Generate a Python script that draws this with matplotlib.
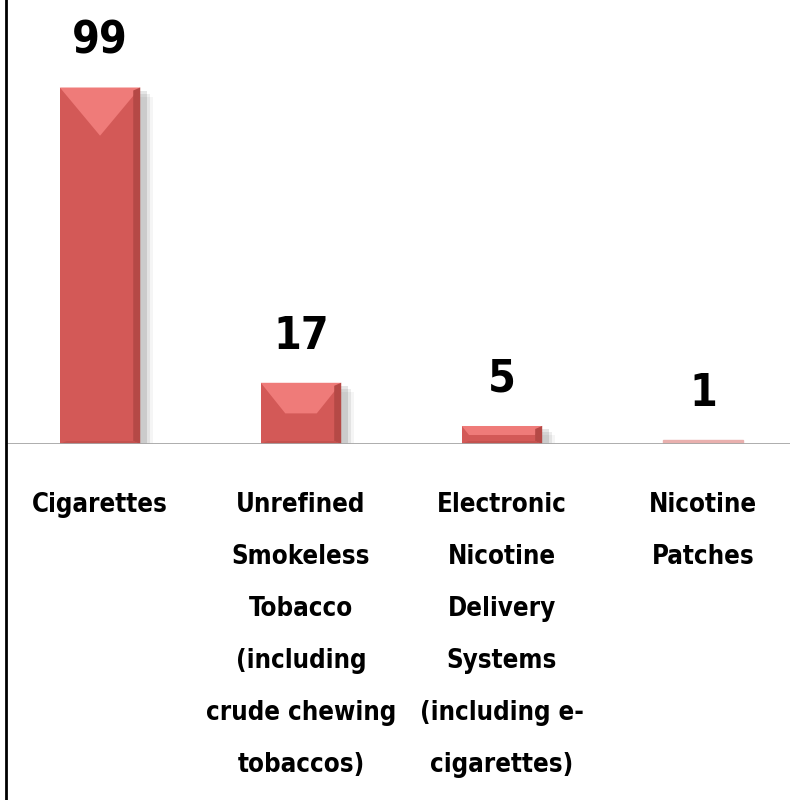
import numpy as np
import matplotlib.pyplot as plt
from matplotlib.patches import Polygon, Rectangle
from matplotlib.lines import Line2D

# data
categories = ["Cigarettes",
              "Unrefined\nSmokeless\nTobacco\n(including\ncrude chewing\ntobaccos)",
              "Electronic\nNicotine\nDelivery\nSystems\n(including e-\ncigarettes)",
              "Nicotine\nPatches"]
values = [99, 17, 5, 1]

plt.rcParams['font.family'] = ['DejaVu Sans']
plt.rcParams['font.stretch'] = 'condensed'

W, H = 790, 800
fig = plt.figure(figsize=(W / 100, H / 100), dpi=100)
# plot area: from left border to right edge, top to baseline
ax = fig.add_axes([6 / W, (H - 444) / H, 784 / W, 444 / H])
x = np.arange(len(values))
ax.set_xlim(-0.468, 3.433)
ax.set_ylim(0, 123.3)
ax.axis('off')

bw = 0.4
px_x = 784 / (3.433 + 0.468)   # pixels per x unit
px_y = 444 / 123.3             # pixels per y unit

face = '#d35957'
top_c = '#ef7b79'
right_c = '#b54946'
bot_c = '#c4524f'

for xi, v in zip(x, values):
    x0, x1 = xi - bw / 2, xi + bw / 2
    hpx = v * px_y
    if hpx < 6:
        ax.add_patch(Rectangle((x0, 0), bw, v, color='#e9b0ae', zorder=2))
        continue
    dx = min(40, hpx * 0.4) / px_x
    dy = min(48, hpx * 0.5) / px_y
    sx, sy = 7 / px_x, 3 / px_y
    # shadow
    for k, a in enumerate([0.10, 0.07, 0.04]):
        s = (k + 1) * 3
        ax.add_patch(Rectangle((x0 + 4 / px_x, -s / px_y), bw + s / px_x, v,
                               color='black', alpha=a, lw=0, zorder=1))
    ax.add_patch(Rectangle((x0, 0), bw, v, color=face, lw=0, zorder=2))
    ax.add_patch(Polygon([(x0, v), (x1, v), (x1 - dx, v - dy), (x0 + dx, v - dy)],
                         closed=True, color=top_c, lw=0, zorder=3))
    ax.add_patch(Polygon([(x1, v), (x1, 0), (x1 - sx, sy), (x1 - sx, v - sy)],
                         closed=True, color=right_c, lw=0, zorder=3))
    ax.add_patch(Polygon([(x0, 0), (x1, 0), (x1 - sx, sy), (x0 + sx, sy)],
                         closed=True, color=bot_c, lw=0, zorder=3))

ax.axhline(0, color='#a6a6a6', lw=2, zorder=4)

for xi, v in zip(x, values):
    ax.annotate(str(v), (xi, v), xytext=(0, 18), textcoords='offset points',
                ha='center', va='bottom', fontsize=32, fontweight='bold')

# category labels, one text per line so the spacing matches
pt = 72 / 100
for xi, lab in zip(x, categories):
    for i, line in enumerate(lab.split('\n')):
        ax.annotate(line, (xi, 0), xytext=(0, -(61 + i * 52) * pt),
                    textcoords='offset points', ha='center', va='center',
                    fontsize=18.5, fontweight='bold')

# left border
fig.add_artist(Line2D([6 / W, 6 / W], [0, 1], color='black', lw=2))

fig.savefig('out.png', dpi=100)
